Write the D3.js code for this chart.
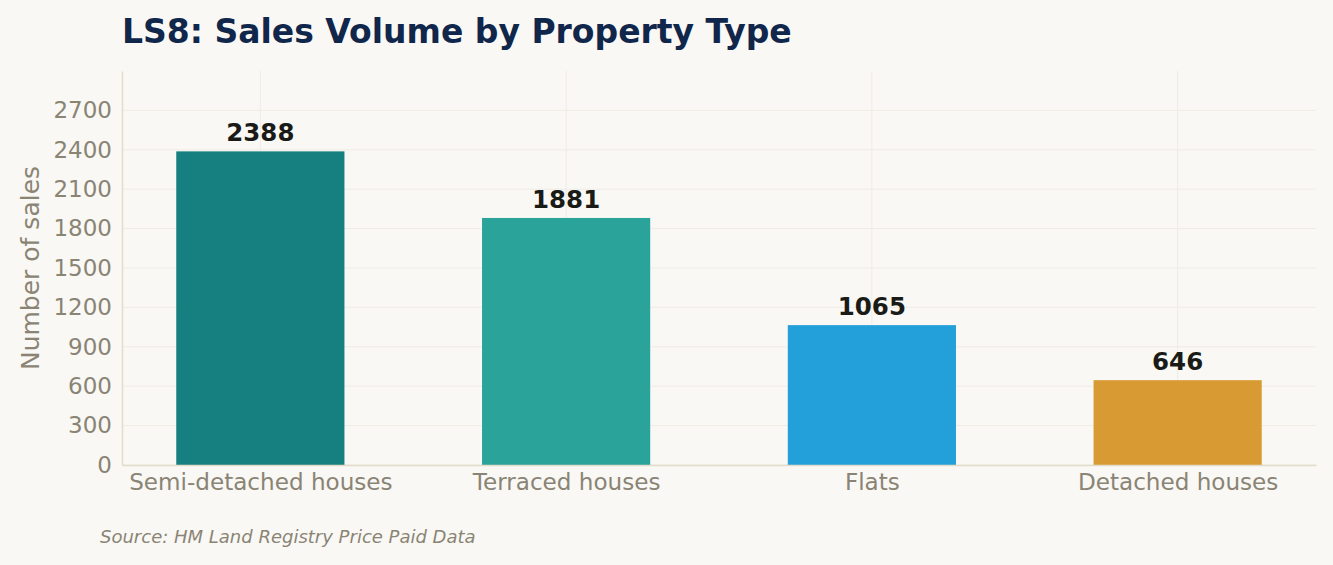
<!DOCTYPE html>
<html>
<head>
<meta charset="utf-8">
<script src="https://cdn.jsdelivr.net/npm/d3@7"></script>
<style>
  html, body { margin: 0; padding: 0; background: #F9F8F4; }
  svg { display: block; font-family: "DejaVu Sans", sans-serif; }
</style>
</head>
<body>
<div id="chart"></div>
<script>
// data
const categories = ["Semi-detached houses", "Terraced houses", "Flats", "Detached houses"];
const sales = [2388, 1881, 1065, 646];
const barColors = ["#167F7F", "#2AA39A", "#239FDA", "#D89B34"];
const yTicks = [0, 300, 600, 900, 1200, 1500, 1800, 2100, 2400, 2700];

const W = 1333, H = 565;
const margin = { left: 122, right: 17, top: 71, bottom: 100 };

const svg = d3.select("#chart").append("svg")
    .attr("width", W)
    .attr("height", H);

svg.append("rect")
    .attr("width", W)
    .attr("height", H)
    .attr("fill", "#F9F8F4");

// matplotlib-like x: bars at 0..n-1, width 0.55, 5% margins
const barW = 0.55;
const lo = -barW / 2, hi = categories.length - 1 + barW / 2;
const pad = (hi - lo) * 0.05;
const x = d3.scaleLinear()
    .domain([lo - pad, hi + pad])
    .range([margin.left, W - margin.right]);

const y = d3.scaleLinear()
    .domain([0, 3000])
    .range([H - margin.bottom, margin.top]);

const plotBottom = y(0), plotTop = y(3000);

// grid
svg.append("g")
    .selectAll("line")
    .data(yTicks)
    .join("line")
    .attr("x1", x.range()[0])
    .attr("x2", x.range()[1])
    .attr("y1", d => y(d))
    .attr("y2", d => y(d))
    .attr("stroke", "#EFECE4")
    .attr("stroke-width", 1);

svg.append("g")
    .selectAll("line")
    .data(categories.map((c, i) => i))
    .join("line")
    .attr("x1", d => x(d))
    .attr("x2", d => x(d))
    .attr("y1", plotTop)
    .attr("y2", plotBottom)
    .attr("stroke", "#EFECE4")
    .attr("stroke-width", 1);

// bars
svg.append("g")
    .selectAll("rect")
    .data(sales)
    .join("rect")
    .attr("x", (d, i) => x(i - barW / 2))
    .attr("width", (d, i) => x(i + barW / 2) - x(i - barW / 2))
    .attr("y", d => y(d))
    .attr("height", d => plotBottom - y(d))
    .attr("fill", (d, i) => barColors[i]);

// value labels
svg.append("g")
    .selectAll("text")
    .data(sales)
    .join("text")
    .attr("x", (d, i) => x(i))
    .attr("y", d => y(d) - 10)
    .attr("text-anchor", "middle")
    .style("font-size", "24.5px")
    .style("font-weight", "bold")
    .style("fill", "#1A1A17")
    .text(d => d);

// y axis
const yAxis = svg.append("g")
    .attr("transform", `translate(${margin.left},0)`)
    .call(d3.axisLeft(y).tickValues(yTicks).tickFormat(d3.format("d")).tickSize(0).tickPadding(10));
yAxis.select(".domain").attr("stroke", "#E2DCCB").attr("stroke-width", 1.5);
yAxis.selectAll("text")
    .style("font-size", "23px")
    .style("fill", "#8A8474")
    .style("font-family", "DejaVu Sans, sans-serif");

// x axis
const xAxis = svg.append("g")
    .attr("transform", `translate(0,${plotBottom})`)
    .call(d3.axisBottom(x)
        .tickValues(categories.map((c, i) => i))
        .tickFormat(i => categories[i])
        .tickSize(0)
        .tickPadding(9));
xAxis.select(".domain").attr("stroke", "#E2DCCB").attr("stroke-width", 1.5);
xAxis.selectAll("text")
    .style("font-size", "23.1px")
    .style("fill", "#8A8474")
    .style("font-family", "DejaVu Sans, sans-serif");

// axis title
svg.append("text")
    .attr("transform", `translate(39,${(plotTop + plotBottom) / 2}) rotate(-90)`)
    .attr("text-anchor", "middle")
    .style("font-size", "25px")
    .style("fill", "#8A8474")
    .text("Number of sales");

// title
svg.append("text")
    .attr("x", 122)
    .attr("y", 43)
    .style("font-size", "33px")
    .style("font-weight", "bold")
    .style("fill", "#10264A")
    .text("LS8: Sales Volume by Property Type");

// source
svg.append("text")
    .attr("x", 100)
    .attr("y", 543)
    .style("font-size", "18px")
    .style("font-style", "italic")
    .style("fill", "#8A8474")
    .text("Source: HM Land Registry Price Paid Data");
</script>
</body>
</html>
